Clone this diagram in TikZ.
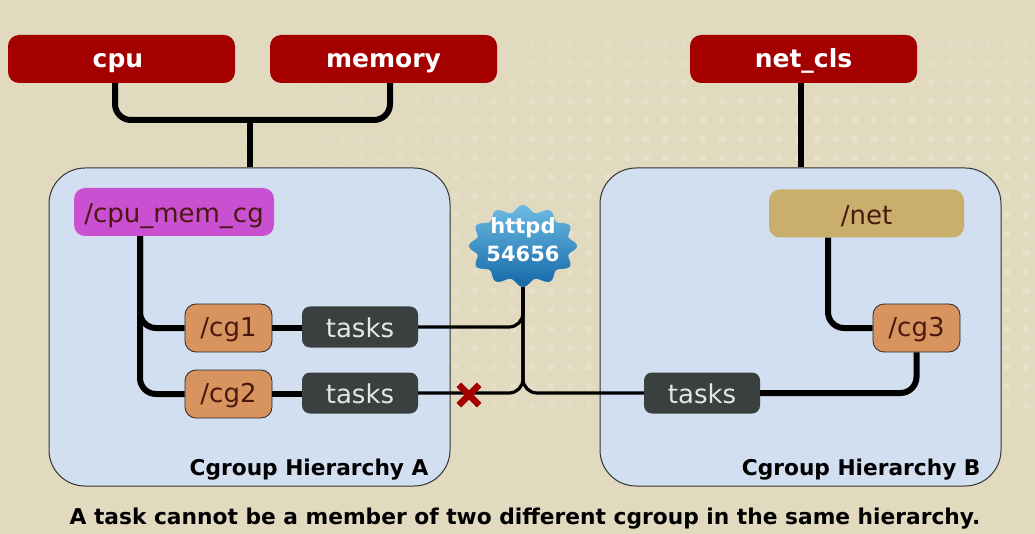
\documentclass[tikz,border=0pt]{standalone}
\usepackage{fontspec}
\setmainfont{DejaVu Sans}
\usetikzlibrary{calc}
\definecolor{paper}{HTML}{E1DABF}
\definecolor{subred}{HTML}{A40000}
\definecolor{hierblue}{HTML}{D2DFF0}
\definecolor{rootpurple}{HTML}{CA50D2}
\definecolor{roottan}{HTML}{C9AE6C}
\definecolor{cgorange}{HTML}{D8945E}
\definecolor{taskgrey}{HTML}{3A3F3F}
\definecolor{cgtext}{HTML}{4A1810}
\definecolor{blobtop}{HTML}{6DBBE3}
\definecolor{blobmid}{HTML}{2389CC}
\definecolor{blobfoot}{HTML}{1468A8}
\tikzset{
  subsys/.style={fill=subred,text=white,rounded corners=11pt,minimum width=227pt,minimum height=48pt,text height=22pt,text depth=4pt,font=\fontsize{25}{25}\selectfont\bfseries},
  hier/.style={draw=black!80,line width=1pt,fill=hierblue,rounded corners=36pt,minimum width=401pt,minimum height=318pt},
  rootcg/.style={rounded corners=11pt,minimum height=48pt,text height=26pt,text depth=4pt,text=cgtext,font=\fontsize{26}{26}\selectfont},
  cg/.style={draw=black!85,line width=0.8pt,fill=cgorange,rounded corners=11pt,minimum width=87pt,minimum height=48pt,text height=20pt,text depth=4pt,text=cgtext,font=\fontsize{26}{26}\selectfont},
  tasklist/.style={fill=taskgrey,text=white!90!black,rounded corners=8pt,minimum width=116pt,minimum height=41pt,text height=24pt,text depth=4pt,font=\fontsize{26}{26}\selectfont},
  caption/.style={font=\fontsize{21.75}{21.75}\selectfont\bfseries},
  hierlabel/.style={anchor=base east,font=\fontsize{21.7}{21.7}\selectfont\bfseries},
  link/.style={line width=6pt,rounded corners=16pt},
  thinlink/.style={line width=3.2pt,rounded corners=14pt},
  nogo/.style={subred,line width=6.5pt},
}
\begin{document}
\begin{tikzpicture}[x=1pt,y=-1pt]
  \fill[paper] (0,0) rectangle (1035,534);
  \useasboundingbox (0,0) rectangle (1035,534);
  % paper dots
  \foreach \x in {0,19,...,1035} {
    \foreach \y in {6,25,...,440} {
      \pgfmathsetmacro{\dotfade}{0.2*min(1,max(0,(\x-150)/450))*min(1,(\y+20)/130)*min(1,(460-\y)/80)}
      \fill[white,opacity=\dotfade] (\x,\y) circle (3.6);
    }
  }
  % hierarchies
  \node[hier] (hierA) at (249.5,327) {};
  \node[hier] (hierB) at (800.5,327) {};
  \node[hierlabel] (labelA) at (432,475) {Cgroup Hierarchy A};
  \node[hierlabel] (labelB) at (984,475) {Cgroup Hierarchy B};
  % subsystems
  \node[subsys] (cpu) at (121.5,59) {cpu\hspace*{7pt}};
  \node[subsys] (memory) at (383.5,59) {memory};
  \node[subsys] (netcls) at (803.5,59) {net\_cls};
  % cgroups
  \node[rootcg,fill=rootpurple,minimum width=200pt] (cpumem) at (174,212) {/cpu\_mem\_cg};
  \node[rootcg,fill=roottan,minimum width=195pt] (net) at (866.5,213.5) {/net};
  \node[cg] (cgone) at (228.5,328) {/cg1};
  \node[cg] (cgtwo) at (228.5,394) {/cg2};
  \node[cg] (cgthree) at (916.5,328) {/cg3};
  \node[tasklist] (tasksone) at (360,327) {tasks};
  \node[tasklist] (taskstwo) at (360,393) {tasks};
  \node[tasklist] (tasksthree) at (702,393) {tasks};
  % process
  \shade[top color=blobtop,middle color=blobmid,bottom color=blobfoot]
    plot[domain=0:360,samples=145,smooth] ({523+(50.5+3.5*cos(12*\x))*cos(\x)},{246+(37.5+3.5*cos(12*\x))*sin(\x)});
  \node[text=white,align=center,font=\fontsize{21}{28}\selectfont\bfseries,minimum width=108pt,minimum height=94pt] (httpd) at (523,240) {httpd\\54656};
  % connectors
  \coordinate (joinA) at (250,120);
  \draw[link] ([xshift=-6.5pt]cpu.south) |- (joinA) -| ([xshift=6.5pt]memory.south);
  \draw[link] (joinA) -- (joinA |- hierA.north);
  \draw[link] ([xshift=-2.5pt]netcls.south) -- ([xshift=0.5pt]hierB.north);
  \draw[link] ([xshift=-34pt]cpumem.south) |- (cgone.west);
  \draw[link] ([xshift=-34pt]cpumem.south) |- (cgtwo.west);
  \draw[link] ([xshift=-38.5pt]net.south) |- (cgthree.west);
  \draw[link] (cgone.east) -- (cgone.east -| tasksone.west);
  \draw[link] (cgtwo.east) -- (cgtwo.east -| taskstwo.west);
  \draw[link] (cgthree.south) |- (tasksthree.east);
  \draw[thinlink] (tasksone.east) -| (httpd.south);
  \draw[thinlink] (taskstwo.east) -| (httpd.south);
  \draw[thinlink] (tasksthree.west) -| (httpd.south);
  % forbidden membership
  \node[inner sep=0pt,minimum size=24pt] (cross) at (469,395) {};
  \draw[nogo] ($(cross.north west)+(2,2)$) -- ($(cross.south east)+(-2,-2)$);
  \draw[nogo] ($(cross.north east)+(-2,2)$) -- ($(cross.south west)+(2,-2)$);
  \node[caption] (note) at (525,519) {A task cannot be a member of two different cgroup in the same hierarchy.};
\end{tikzpicture}
\end{document}
